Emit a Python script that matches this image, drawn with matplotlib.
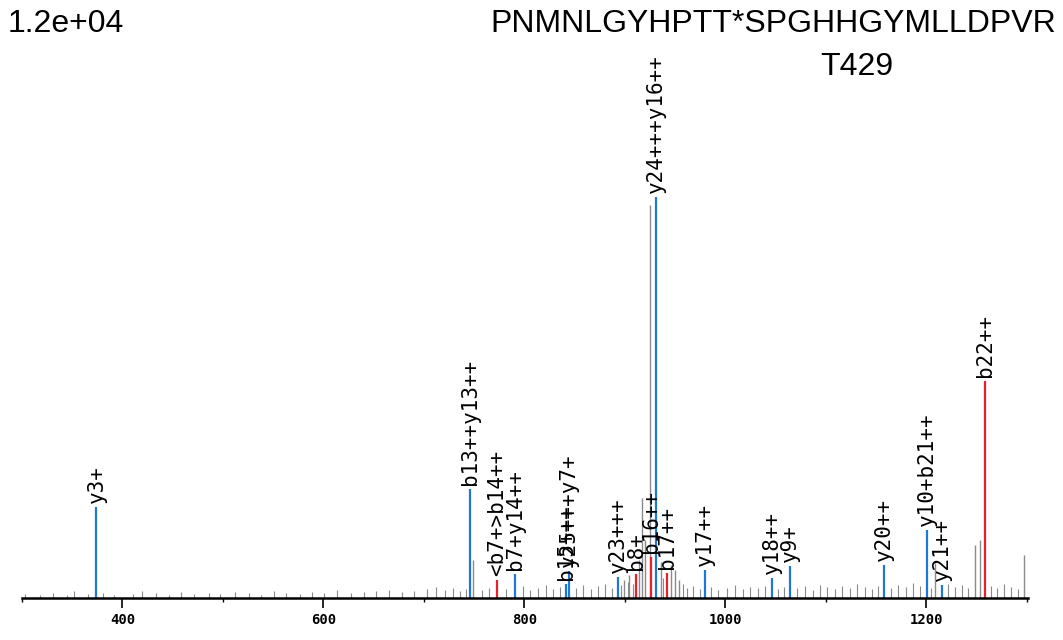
import matplotlib
matplotlib.use("Agg")
import matplotlib.pyplot as plt
from matplotlib.ticker import MultipleLocator

# annotated fragment peaks: m/z, intensity, ion type, label
ion_mz = [374.1, 746.3, 773.1, 791.0, 842.0, 844.8, 893.5, 911.4, 926.4,
          931.3, 942.3, 980.1, 1046.8, 1064.7, 1158.2, 1201.0, 1215.9, 1258.7]
ion_int = [2720, 3260, 540, 720, 420, 810, 630, 720, 1230,
           12000, 750, 840, 600, 960, 990, 2040, 390, 6500]
ion_type = ['y', 'y', 'b', 'y', 'y', 'y', 'y', 'b', 'b',
            'y', 'b', 'y', 'y', 'y', 'y', 'y', 'y', 'b']
ion_labels = ['y3+', 'b13++y13++', '<b7+>b14++', 'b7+y14++', 'b15+++', 'y25+++y7+',
              'y23+++', 'b8+', 'b16++', 'y24+++y16++', 'b17++', 'y17++',
              'y18++', 'y9+', 'y20++', 'y10+b21++', 'y21++', 'b22++']

# unmatched peaks (grey)
other_mz = [917.4, 925.4, 920.4, 914.4, 904.5, 899.5, 936.3, 946.3, 950.2, 954.2,
            749.2, 1209.0, 1248.8, 1253.7, 1297.5]
other_int = [2990, 11760, 1740, 1140, 690, 540, 1080, 990, 840, 540,
             1140, 1050, 1590, 1740, 1290]

# low level noise
noise_mz = [303, 318, 331, 345, 352, 366, 381, 392, 410, 419, 433, 446, 458, 471,
            486, 497, 512, 526, 538, 551, 563, 577, 589, 601, 614, 627, 640, 652,
            665, 678, 690, 703, 712, 721, 729, 736, 742, 758, 765, 782, 799, 806,
            814, 822, 829, 836, 851, 858, 866, 873, 880, 887, 896, 903, 908, 938,
            958, 962, 968, 975, 986, 993, 1002, 1010, 1018, 1025, 1033, 1040, 1053,
            1059, 1071, 1079, 1087, 1094, 1101, 1109, 1116, 1124, 1131, 1139, 1146,
            1152, 1165, 1172, 1180, 1187, 1194, 1205, 1222, 1229, 1236, 1242, 1265,
            1271, 1278, 1284, 1291]
noise_int = [120, 90, 150, 80, 210, 120, 150, 90, 120, 210, 150, 90, 180, 120,
             150, 120, 180, 150, 90, 210, 150, 120, 180, 150, 240, 150, 180, 210,
             240, 180, 210, 270, 330, 240, 300, 210, 270, 240, 300, 270, 360, 240,
             300, 390, 270, 330, 300, 390, 270, 360, 420, 300, 390, 480, 420, 600,
             420, 300, 360, 270, 330, 240, 300, 390, 270, 330, 300, 360, 270,
             330, 300, 360, 240, 390, 330, 270, 360, 300, 420, 330, 270,
             360, 300, 390, 330, 450, 360, 300, 420, 330, 390, 300, 360,
             300, 420, 330, 270]

peptide = 'PNMNLGYHPTT*SPGHHGYMLLDPVR'
site = 'T429'
max_label = '1.2e+04'

colors = {'b': '#e8202a', 'y': '#1e78d8'}

fig = plt.figure(figsize=(10.63, 6.40), dpi=100)
ax = fig.add_axes([0.0207, 0.0656, 0.946, 0.9344])

ax.vlines(noise_mz, 0, noise_int, color='#8a8a8a', lw=0.8)
ax.vlines(other_mz, 0, other_int, color='#8a8a8a', lw=1.0)
for mz, inten, t, lab in zip(ion_mz, ion_int, ion_type, ion_labels):
    ax.vlines(mz, 0, inten, color=colors[t], lw=1.6)
    ax.annotate(lab, (mz, inten), xytext=(0, 3), textcoords='offset points',
                rotation=90, ha='center', va='bottom', fontsize=15,
                family='DejaVu Sans Mono', color='black')

ax.set_xlim(300, 1301)
ax.set_ylim(0, 12000 * 598 / 401)
ax.xaxis.set_major_locator(MultipleLocator(200))
ax.xaxis.set_minor_locator(MultipleLocator(100))
ax.tick_params(axis='x', which='major', length=7, width=1.2, direction='out',
               labelsize=10, pad=4)
ax.tick_params(axis='x', which='minor', length=3, width=1.0)
for lab in ax.get_xticklabels():
    lab.set_fontfamily('DejaVu Sans Mono')
    lab.set_fontweight('bold')
ax.set_yticks([])
for s in ['top', 'right', 'left']:
    ax.spines[s].set_visible(False)
ax.spines['bottom'].set_linewidth(1.8)
ax.patch.set_visible(False)

fig.text(8 / 1063, 1 - 9 / 640, max_label, fontsize=23, family='Liberation Sans',
         ha='left', va='top')
fig.text(1056 / 1063, 1 - 9 / 640, peptide, fontsize=23, family='Liberation Sans',
         ha='right', va='top')
fig.text(857 / 1063, 1 - 52 / 640, site, fontsize=23, family='Liberation Sans',
         ha='center', va='top')

fig.savefig('out.png', dpi=100)
